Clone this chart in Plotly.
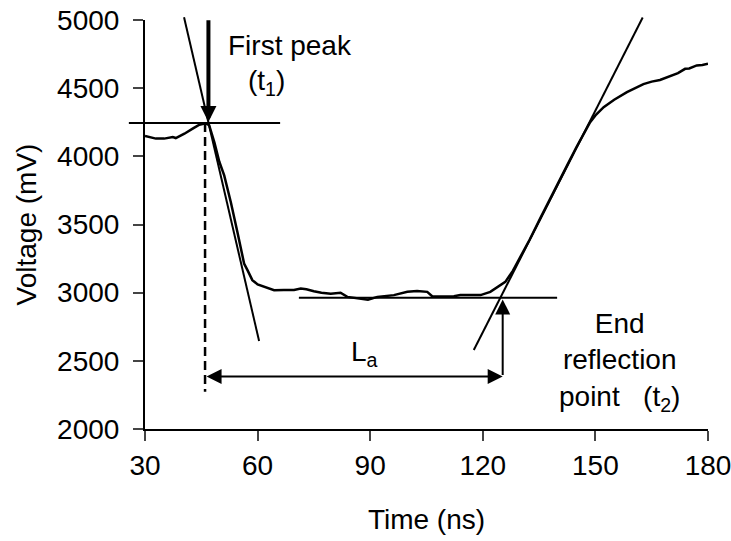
import plotly.graph_objects as go

# ---- data ----
time_ns = [30, 32.9, 35.1, 37.4, 38.2, 40.5, 42.7, 44.5, 46.2, 47.1, 48.5, 49.8, 51.1, 52.9,
           54.7, 56.4, 57.3, 58.6, 60, 61.7, 64.4, 67, 69.7, 71.5, 73, 75.0, 77, 79.5, 82.1,
           83.9, 87.0, 89.4, 91.9, 94, 96.3, 99.9, 102.5, 105.2, 106.5, 109, 112.3, 114.0,
           117, 119.4, 122.0, 124.7, 126.0, 128, 130, 132.5, 135.3, 138, 140, 142.4, 145,
           146.8, 148.6, 150, 152.2, 155, 158.4, 162.8, 165, 167.2, 169, 170.8, 172, 173.9,
           175, 177.0, 178.5, 180]
voltage_mv = [4150, 4130, 4130, 4141, 4134, 4166, 4203, 4232, 4242, 4228, 4100, 3960, 3860, 3660,
              3434, 3214, 3165, 3092, 3060, 3042, 3018, 3020, 3020, 3031, 3025, 3011, 3000, 2992, 2999,
              2969, 2957, 2948, 2969, 2975, 2982, 3006, 3013, 3006, 2974, 2972, 2974, 2982,
              2980, 2982, 3006, 3055, 3079, 3160, 3260, 3390, 3545, 3695, 3800, 3930, 4070,
              4165, 4250, 4300, 4361, 4415, 4471, 4530, 4548, 4560, 4580, 4598, 4610, 4642,
              4645, 4667, 4670, 4680]

x_ticks = [30, 60, 90, 120, 150, 180]
y_ticks = [2000, 2500, 3000, 3500, 4000, 4500, 5000]

# construction lines: (x0, y0, x1, y1) in data units
peak_level = [25.7, 4245, 66.0, 4245]
fall_tangent = [40.4, 5020, 60.4, 2645]
rise_tangent = [117.6, 2579, 162.6, 5018]
floor_level = [71.0, 2962, 139.8, 2962]
t1_dashed = [46.0, 4245, 46.0, 2273]

t1 = 46.0
t2 = 125.3
la_level = 2385
t2_arrow_top = 2950
peak_arrow = [46.9, 5010, 46.9, 4252]

XR = [30, 180]
YR = [2000, 5000]
FONT = "Liberation Sans, Arial, sans-serif"
FS = 28


def dx(v):
    return (v - XR[0]) / (XR[1] - XR[0])


def dy(v):
    return (v - YR[0]) / (YR[1] - YR[0])


def seg(c, dash="solid", width=2):
    return dict(type="line", xref="x domain", yref="y domain",
                x0=dx(c[0]), y0=dy(c[1]), x1=dx(c[2]), y1=dy(c[3]),
                line=dict(color="black", width=width, dash=dash))


fig = go.Figure()
fig.add_trace(go.Scatter(x=time_ns, y=voltage_mv, mode="lines",
                         line=dict(color="black", width=2.5), showlegend=False,
                         hoverinfo="skip"))

fig.update_layout(
    width=731, height=541,
    margin=dict(l=145, r=23, t=20, b=112),
    paper_bgcolor="white", plot_bgcolor="white",
    font=dict(family=FONT, size=FS, color="black"),
    shapes=[seg(peak_level), seg(fall_tangent), seg(rise_tangent), seg(floor_level),
            seg(t1_dashed, dash="9px,5px", width=2.5)],
    showlegend=False,
)
fig.update_xaxes(range=XR, tickvals=x_ticks, ticks="outside", ticklen=10, tickwidth=2,
                 showline=True, linewidth=2, linecolor="black", showgrid=False, zeroline=False,
                 automargin=False, ticklabeloverflow="allow",
                 tickfont=dict(family=FONT, size=FS), title=dict(text="Time (ns)", standoff=30,
                 font=dict(family=FONT, size=FS)))
fig.update_yaxes(range=YR, tickvals=y_ticks, ticks="outside", ticklen=10, tickwidth=2,
                 showline=True, linewidth=2, linecolor="black", showgrid=False, zeroline=False,
                 automargin=False, ticklabelstandoff=8, ticklabeloverflow="allow",
                 tickfont=dict(family=FONT, size=FS), title=dict(text="Voltage (mV)", standoff=12,
                 font=dict(family=FONT, size=FS)))

arrow_common = dict(xref="x", yref="y", axref="x", ayref="y", text="", showarrow=True,
                    arrowcolor="black")
fig.add_annotation(x=peak_arrow[2], y=peak_arrow[3], ax=peak_arrow[0], ay=peak_arrow[1],
                   arrowhead=2, arrowwidth=4, arrowsize=0.8, **arrow_common)
fig.add_annotation(x=t2, y=la_level, ax=t1, ay=la_level, arrowside="end+start",
                   arrowhead=2, arrowwidth=2, arrowsize=1.5, **arrow_common)
fig.add_annotation(x=t2, y=t2_arrow_top, ax=t2, ay=la_level,
                   arrowhead=2, arrowwidth=2, arrowsize=1.5, **arrow_common)

txt = dict(xref="x", yref="y", showarrow=False, font=dict(family=FONT, size=FS, color="black"))
fig.add_annotation(x=68.6, y=4813, text="First peak", **txt)
fig.add_annotation(x=62.5, y=4540, text="(t<sub>1</sub>)", **txt)
fig.add_annotation(x=88.5, y=2555, text="L<sub>a</sub>", **txt)
fig.add_annotation(x=156.3, y=2495, text="End<br>reflection<br>point   (t<sub>2</sub>)",
                   align="center", **txt)

fig.write_html("out.html", config={"displayModeBar": False},
               post_script="document.body.style.margin='0';")
